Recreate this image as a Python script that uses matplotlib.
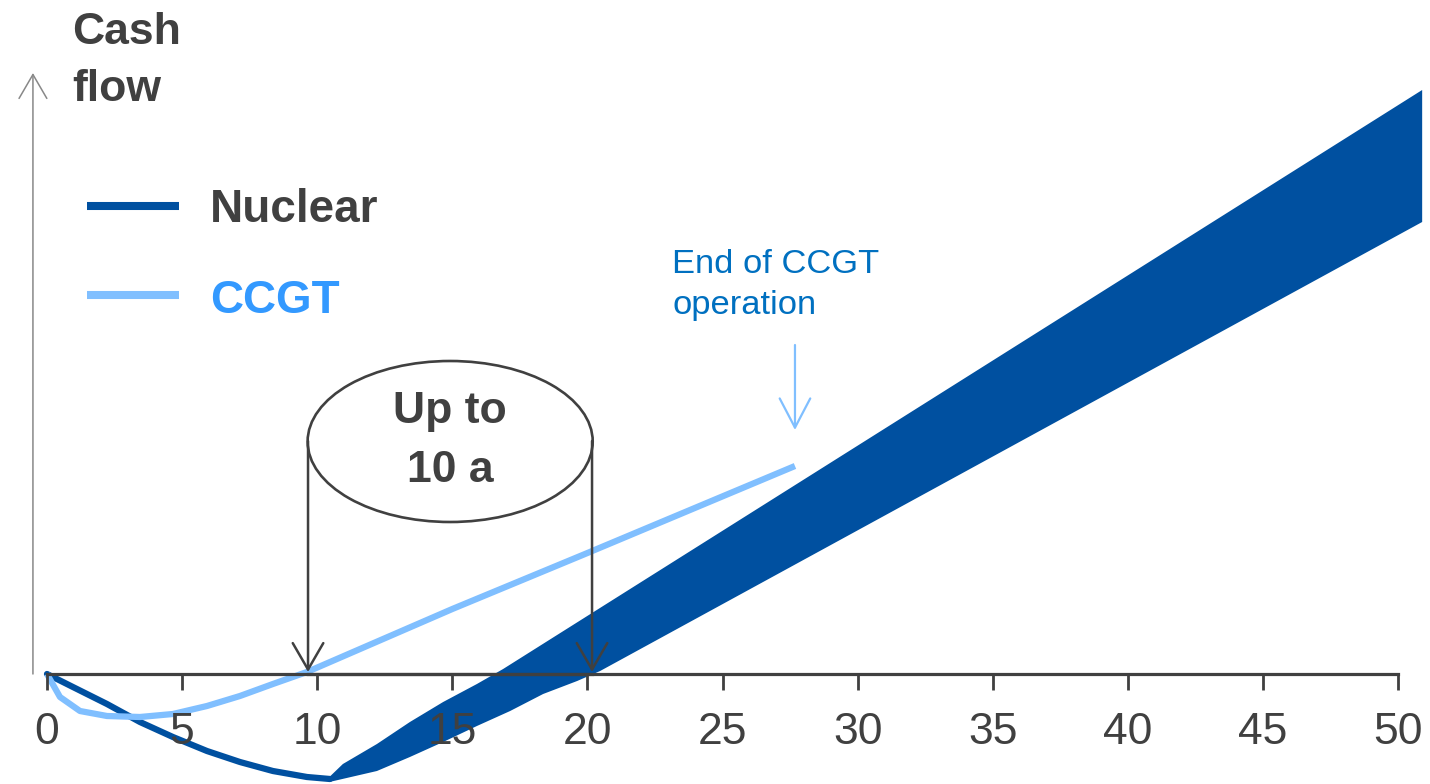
import matplotlib
matplotlib.use("Agg")
import matplotlib.pyplot as plt
from matplotlib.patches import Ellipse, FancyArrowPatch, ArrowStyle

plt.rcParams["font.family"] = ["Liberation Sans", "DejaVu Sans"]

GREY = "#404040"
NAVY = "#0050A0"
LIGHT = "#80BFFF"
CCGT_TXT = "#3399FF"
NOTE = "#0070C0"

# ---- data (years, relative cash flow) ----
nuc_years = [0, 0.96, 2.22, 3.44, 4.66, 5.92, 7.14, 8.36, 9.62, 10.47]
nuc_cash = [0, -0.13, -0.30, -0.48, -0.63, -0.77, -0.88, -0.97, -1.03, -1.05]

band_up_years = [10.45, 10.95, 12.21, 13.43, 14.66, 15.91, 16.88, 50.89]
band_up_cash = [-1.03, -0.90, -0.70, -0.48, -0.28, -0.10, 0.05, 5.84]
band_lo_years = [10.45, 12.21, 13.43, 14.66, 15.91, 17.14, 18.36, 19.62, 20.47, 50.89]
band_lo_cash = [-1.08, -0.97, -0.83, -0.68, -0.52, -0.37, -0.20, -0.07, 0.03, 4.52]

ccgt_years = [0, 0.48, 1.22, 2.22, 3.44, 4.66, 5.92, 7.14, 8.36, 9.62, 15, 20, 27.68]
ccgt_cash = [0, -0.23, -0.37, -0.42, -0.43, -0.40, -0.32, -0.22, -0.10, 0.02, 0.65, 1.21, 2.08]

xticks = list(range(0, 51, 5))
payback = [9.66, 20.17]   # CCGT vs nuclear break-even
ccgt_end = 27.68

fig = plt.figure(figsize=(14.3, 7.84), dpi=100)
ax = fig.add_axes([0, 0, 1, 1])
ax.set_xlim(-1.739, 51.18)
ax.set_ylim(-1.10, 6.74)

for s in ["left", "top", "right"]:
    ax.spines[s].set_visible(False)
ax.spines["bottom"].set_position(("data", 0))
ax.spines["bottom"].set_bounds(0, 50)
ax.spines["bottom"].set_color(GREY)
ax.spines["bottom"].set_linewidth(2.3)
ax.spines["bottom"].set_zorder(6)
ax.set_xticks(xticks)
ax.set_xticklabels([str(t) for t in xticks])
ax.set_yticks([])
ax.tick_params(axis="x", direction="out", length=11.5, width=2.0, color=GREY,
               labelcolor=GREY, labelsize=32, pad=15.5)
ax.xaxis.set_zorder(7)

# nuclear band and line
poly_x = band_up_years + band_lo_years[::-1]
poly_y = band_up_cash + band_lo_cash[::-1]
ax.fill(poly_x, poly_y, color=NAVY, lw=0, zorder=3)
ax.plot(nuc_years, nuc_cash, color=NAVY, lw=4.5, solid_capstyle="round",
        solid_joinstyle="round", zorder=3)

# ccgt line
ax.plot(ccgt_years, ccgt_cash, color=LIGHT, lw=4.5, solid_capstyle="butt",
        solid_joinstyle="round", zorder=4)

# y axis arrow
ax.add_patch(FancyArrowPatch((-0.52, 0.0), (-0.52, 6.01),
                             arrowstyle=ArrowStyle("->", head_length=0.86, head_width=0.5),
                             mutation_scale=20, color="#888888", lw=1.1,
                             shrinkA=0, shrinkB=0, zorder=5))
ax.text(0.93, 6.62, "Cash\nflow", fontsize=32, weight="bold", color=GREY,
        ha="left", va="top", linespacing=1.5)

# legend
ax.plot([1.48, 4.89], [4.68, 4.68], color=NAVY, lw=5.8, solid_capstyle="butt")
ax.plot([1.48, 4.89], [3.79, 3.79], color=LIGHT, lw=5.8, solid_capstyle="butt")
ax.text(6.03, 4.52, "Nuclear", fontsize=33, weight="bold", color=GREY, va="baseline")
ax.text(6.03, 3.61, "CCGT", fontsize=33, weight="bold", color=CCGT_TXT, va="baseline")

# payback bracket
ax.add_patch(Ellipse((14.92, 2.325), 10.55, 1.61, facecolor="white",
                     edgecolor=GREY, lw=1.9, zorder=5))
ax.text(14.92, 2.33, "Up to\n10 a", fontsize=32, weight="bold", color=GREY,
        ha="center", va="center", linespacing=1.55, zorder=6)
for xp in payback:
    ax.add_patch(FancyArrowPatch((xp, 2.33), (xp, 0.02),
                                 arrowstyle=ArrowStyle("->", head_length=0.95, head_width=0.55),
                                 mutation_scale=20, color=GREY, lw=1.8,
                                 shrinkA=0, shrinkB=0, zorder=6))
ax.plot(payback, [0, 0], color=GREY, lw=2.3, zorder=6)

# end of CCGT note
ax.add_patch(FancyArrowPatch((ccgt_end, 3.29), (ccgt_end, 2.44),
                             arrowstyle=ArrowStyle("->", head_length=1.05, head_width=0.55),
                             mutation_scale=20, color=LIGHT, lw=1.6,
                             shrinkA=0, shrinkB=0, zorder=5))
ax.text(23.13, 4.25, "End of CCGT\noperation", fontsize=24.8, color=NOTE,
        ha="left", va="top", linespacing=1.4)

fig.savefig("out.png", dpi=100)
